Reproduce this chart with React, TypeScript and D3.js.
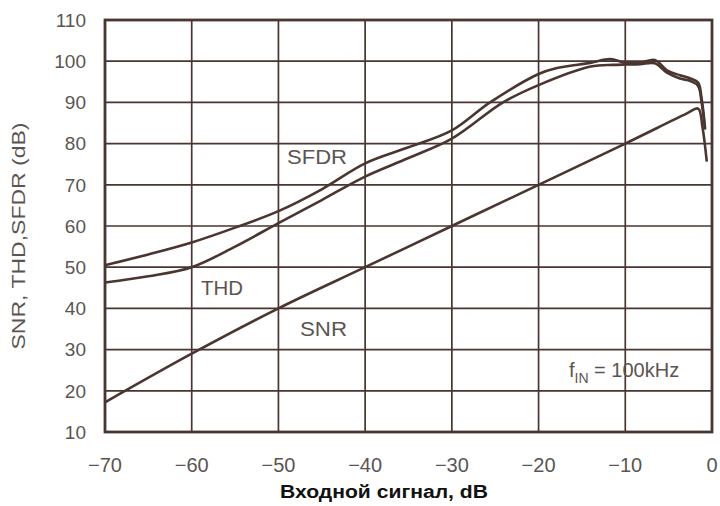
import React from "react";
import * as d3 from "d3";

const xTicks = [-70, -60, -50, -40, -30, -20, -10, 0];
const yTicks = [10, 20, 30, 40, 50, 60, 70, 80, 90, 100, 110];

const snrX = [-70, -60, -50, -40, -30, -20, -10, -3, -1.6, -1.1, -0.6];
const snrY = [17.2, 29, 40, 50, 60, 70, 80, 87.2, 88.5, 84, 75.6];

const sfdrX = [-70, -65, -60, -55, -50, -45, -40, -35, -30, -25.6, -20, -18, -14, -11.75, -10, -8.3, -6.6, -5.2, -3.7, -2.5, -1.6, -1.2, -0.8];
const sfdrY = [50.5, 53.1, 56, 59.6, 63.6, 68.9, 75.2, 79.1, 83.2, 90, 96.9, 98.3, 99.6, 100.5, 99.6, 99.6, 100.3, 97.8, 96.6, 95.8, 94.8, 91, 83.7];

const thdX = [-70, -65, -60, -55, -50, -45, -40, -35, -30, -24.1, -20, -14, -11.4, -10, -8.3, -6.6, -5.2, -3.7, -2.5, -1.6, -1.2, -0.8];
const thdY = [46.3, 47.8, 50, 55, 60.7, 66.3, 72, 76.5, 81.2, 90, 94.2, 98.7, 99.1, 99.2, 99.3, 99.5, 97.2, 95.8, 95.2, 94, 90, 83.4];

const LINE = "#4a3530";
const TEXT = "#5a5552";

export default function App() {
  const left = 105, right = 712, top = 20, bottom = 432;
  const x = d3.scaleLinear().domain([-70, 0]).range([left, right]);
  const y = d3.scaleLinear().domain([10, 110]).range([bottom, top]);
  const line = d3
    .line<[number, number]>()
    .x((d) => x(d[0]))
    .y((d) => y(d[1]))
    .curve(d3.curveCatmullRom.alpha(0.5));
  const zip = (a: number[], b: number[]) => a.map((v, i) => [v, b[i]] as [number, number]);
  const fmt = (v: number) => (v < 0 ? "\u2212" + Math.abs(v) : String(v));
  const font = "Liberation Sans, Arial, sans-serif";

  return (
    <svg
      width={720}
      height={506}
      style={{ position: "absolute", left: 0, top: 0, background: "#fff" }}
      fontFamily={font}
    >
      <rect width={720} height={506} fill="#fff" />
      {xTicks.slice(1, -1).map((t) => (
        <line key={"gx" + t} x1={x(t)} x2={x(t)} y1={top} y2={bottom} stroke={LINE} strokeWidth={1.7} />
      ))}
      {yTicks.slice(1, -1).map((t) => (
        <line key={"gy" + t} x1={left} x2={right} y1={y(t)} y2={y(t)} stroke={LINE} strokeWidth={1.7} />
      ))}
      <path d={line(zip(snrX, snrY)) || ""} fill="none" stroke={LINE} strokeWidth={2.6} strokeLinejoin="round" />
      <path d={line(zip(thdX, thdY)) || ""} fill="none" stroke={LINE} strokeWidth={2.6} strokeLinejoin="round" />
      <path d={line(zip(sfdrX, sfdrY)) || ""} fill="none" stroke={LINE} strokeWidth={2.6} strokeLinejoin="round" />
      <rect x={left} y={top} width={right - left} height={bottom - top} fill="none" stroke={LINE} strokeWidth={2.8} />
      {yTicks.map((t) => (
        <text key={"ty" + t} x={86} y={y(t)} dy="0.36em" textAnchor="end" fontSize={19} fill={TEXT}>
          {t}
        </text>
      ))}
      {xTicks.map((t) => (
        <text key={"tx" + t} x={x(t)} y={472} textAnchor="middle" fontSize={20} fill={TEXT}>
          {fmt(t)}
        </text>
      ))}
      <text x={287} y={164} fontSize={20} fill={TEXT} textLength={60} lengthAdjust="spacingAndGlyphs">SFDR</text>
      <text x={201} y={295} fontSize={20} fill={TEXT} textLength={42} lengthAdjust="spacingAndGlyphs">THD</text>
      <text x={300} y={336} fontSize={20} fill={TEXT} textLength={47} lengthAdjust="spacingAndGlyphs">SNR</text>
      <text x={569} y={377} fontSize={20} fill={TEXT}>
        f
        <tspan fontSize={14} dy={6}>IN</tspan>
        <tspan dy={-6}> = 100kHz</tspan>
      </text>
      <text
        transform="translate(25,236) rotate(-90)"
        textAnchor="middle"
        fontSize={18}
        fill={TEXT}
        textLength={227}
        lengthAdjust="spacingAndGlyphs"
      >
        SNR, THD,SFDR  (dB)
      </text>
      <text
        x={384}
        y={498}
        textAnchor="middle"
        fontSize={18}
        fontWeight="bold"
        fill="#111"
        textLength={208}
        lengthAdjust="spacingAndGlyphs"
      >
        Входной сигнал, dB
      </text>
    </svg>
  );
}
